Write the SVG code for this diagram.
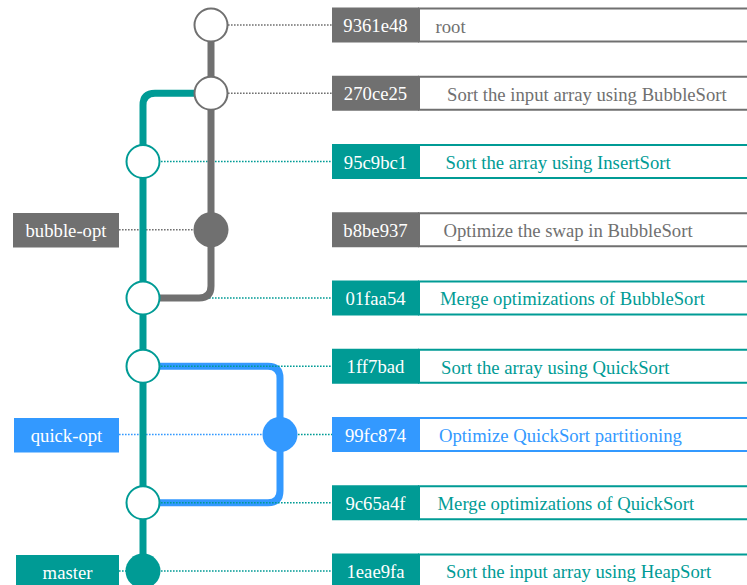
<svg xmlns="http://www.w3.org/2000/svg" width="747" height="585" viewBox="0 0 747 585">
<style>
text{font-family:"Liberation Serif","Times New Roman",serif;font-size:18.7px}
.id{fill:#fff;text-anchor:middle}
.msg{text-anchor:start}
.g{fill:#707070}.t{fill:#009b95}.b{fill:#3399ff}
.gs{stroke:#707070}.ts{stroke:#009b95}.bs{stroke:#3399ff}
.box{fill:#fff;stroke-width:2}
.dot{fill:none;stroke-width:1.6;stroke-dasharray:1.6 1.4}
.line{fill:none;stroke-width:7}
.open{fill:#fff;stroke-width:2}
</style>
<g id="connectors">
<path class="line bs" d="M143,366.25 H268 Q280,366.25 280,378.25 V490.75 Q280,502.75 268,502.75 H143"/>
<line class="dot gs" x1="228" y1="25" x2="332" y2="25"/>
<line class="dot gs" x1="228" y1="93.25" x2="332" y2="93.25"/>
<line class="dot ts" x1="161" y1="161.5" x2="332" y2="161.5"/>
<line class="dot gs" x1="119" y1="229.75" x2="194" y2="229.75"/>
<line class="dot ts" x1="161" y1="298" x2="332" y2="298"/>
<line class="dot ts" x1="161" y1="366.25" x2="332" y2="366.25"/>
<line class="dot bs" x1="119" y1="434.5" x2="262" y2="434.5"/>
<line class="dot ts" x1="298" y1="434.5" x2="332" y2="434.5"/>
<line class="dot ts" x1="161" y1="502.75" x2="332" y2="502.75"/>
<line class="dot ts" x1="119" y1="571" x2="332" y2="571"/>
<path class="line gs" d="M211,25 V286 Q211,298 199,298 H143"/>
<path class="line ts" d="M211,93.25 H155 Q143,93.25 143,105.25 V571"/>
</g>
<g id="c9361e48">
<circle class="open gs" cx="211" cy="25" r="16.5"/>
<rect class="box gs" x="419" y="8.5" width="340" height="33"/>
<rect class="g" x="332" y="7.5" width="87" height="35"/>
<text class="id" x="375.5" y="32">9361e48</text>
<text class="msg g" x="435.5" y="32.5">root</text>
</g>
<g id="c270ce25">
<circle class="open gs" cx="211" cy="93.25" r="16.5"/>
<rect class="box gs" x="419" y="76.75" width="340" height="33"/>
<rect class="g" x="332" y="75.75" width="87" height="35"/>
<text class="id" x="375.5" y="100.25">270ce25</text>
<text class="msg g" x="447" y="100.5">Sort the input array using BubbleSort</text>
</g>
<g id="c95c9bc1">
<circle class="open ts" cx="143" cy="161.5" r="16.5"/>
<rect class="box ts" x="419" y="145" width="340" height="33"/>
<rect class="t" x="332" y="144" width="87" height="35"/>
<text class="id" x="375.5" y="168.5">95c9bc1</text>
<text class="msg t" x="445.5" y="168.75">Sort the array using InsertSort</text>
</g>
<g id="cb8be937">
<circle class="g" cx="211" cy="229.75" r="17.5"/>
<rect class="box gs" x="419" y="213.25" width="340" height="33"/>
<rect class="g" x="332" y="212.25" width="87" height="35"/>
<text class="id" x="375.5" y="236.75">b8be937</text>
<text class="msg g" x="443.5" y="237">Optimize the swap in BubbleSort</text>
</g>
<g id="c01faa54">
<circle class="open ts" cx="143" cy="298" r="16.5"/>
<rect class="box ts" x="419" y="281.5" width="340" height="33"/>
<rect class="t" x="332" y="280.5" width="87" height="35"/>
<text class="id" x="375.5" y="305">01faa54</text>
<text class="msg t" x="440" y="305.25">Merge optimizations of BubbleSort</text>
</g>
<g id="c1ff7bad">
<circle class="open ts" cx="143" cy="366.25" r="16.5"/>
<rect class="box ts" x="419" y="349.75" width="340" height="33"/>
<rect class="t" x="332" y="348.75" width="87" height="35"/>
<text class="id" x="375.5" y="373.25">1ff7bad</text>
<text class="msg t" x="441" y="373.5">Sort the array using QuickSort</text>
</g>
<g id="c99fc874">
<circle class="b" cx="280" cy="434.5" r="17.5"/>
<rect class="box bs" x="419" y="418" width="340" height="33"/>
<rect class="b" x="332" y="417" width="87" height="35"/>
<text class="id" x="375.5" y="441.5">99fc874</text>
<text class="msg b" x="439" y="441.75">Optimize QuickSort partitioning</text>
</g>
<g id="c9c65a4f">
<circle class="open ts" cx="143" cy="502.75" r="16.5"/>
<rect class="box ts" x="419" y="486.25" width="340" height="33"/>
<rect class="t" x="332" y="485.25" width="87" height="35"/>
<text class="id" x="375.5" y="509.75">9c65a4f</text>
<text class="msg t" x="437.5" y="510">Merge optimizations of QuickSort</text>
</g>
<g id="c1eae9fa">
<circle class="t" cx="143" cy="571" r="17.5"/>
<rect class="box ts" x="419" y="554.5" width="340" height="33"/>
<rect class="t" x="332" y="553.5" width="87" height="35"/>
<text class="id" x="375.5" y="578">1eae9fa</text>
<text class="msg t" x="446" y="578.25">Sort the input array using HeapSort</text>
</g>
<g id="bubble-opt">
<rect class="g" x="13" y="213" width="106" height="34.5"/>
<text class="id" x="66" y="237">bubble-opt</text>
</g>
<g id="quick-opt">
<rect class="b" x="14" y="418" width="105" height="34.5"/>
<text class="id" x="66.5" y="441.5">quick-opt</text>
</g>
<g id="master">
<rect class="t" x="16" y="555" width="103" height="35"/>
<text class="id" x="67.5" y="579">master</text>
</g>
</svg>
